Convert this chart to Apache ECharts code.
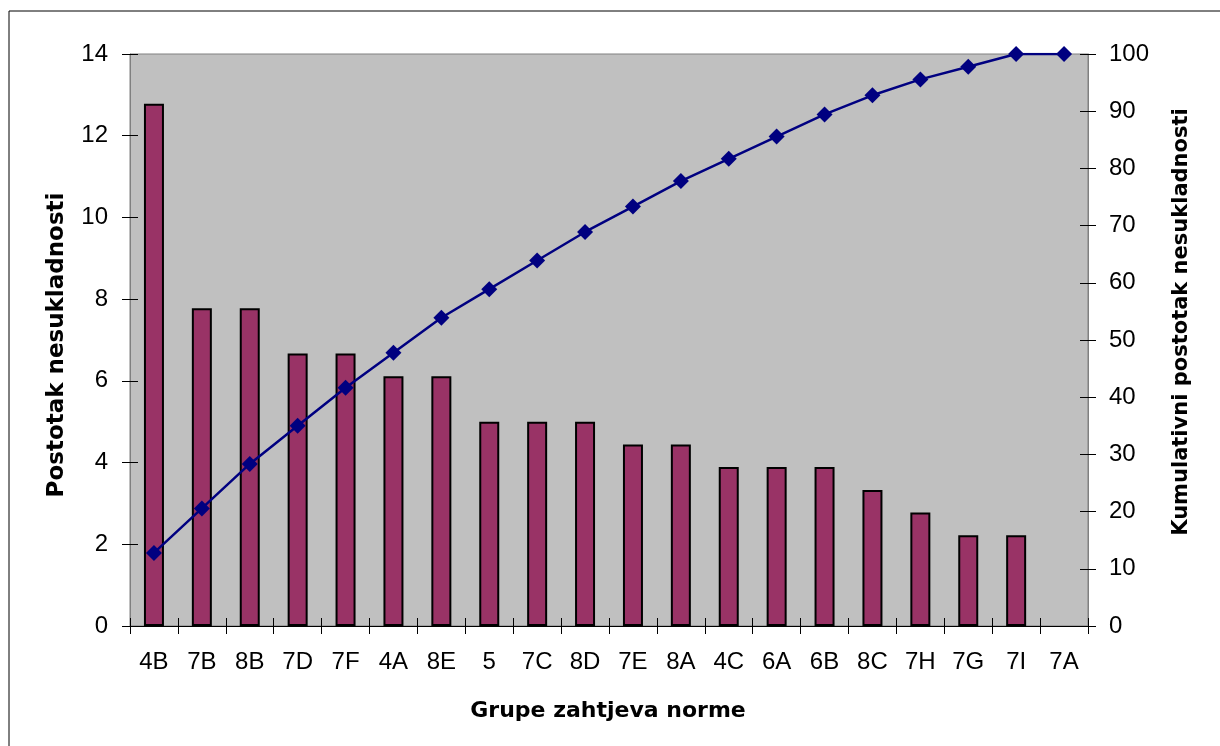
<!DOCTYPE html>
<html>
<head>
<meta charset="utf-8">
<script src="https://cdn.jsdelivr.net/npm/echarts@6/dist/echarts.min.js"></script>
<style>
  html, body { margin: 0; padding: 0; background: #fff; }
  #chart { width: 1220px; height: 746px; }
</style>
</head>
<body>
<div id="chart"></div>
<script>
const categories = ['4B', '7B', '8B', '7D', '7F', '4A', '8E', '5', '7C', '8D', '7E', '8A', '4C', '6A', '6B', '8C', '7H', '7G', '7I', '7A']
// 7A has no bar in the picture (0 %), so it is left empty
const percentValues = [12.78, 7.78, 7.78, 6.67, 6.67, 6.11, 6.11, 5.0, 5.0, 5.0, 4.44, 4.44, 3.89, 3.89, 3.89, 3.33, 2.78, 2.22, 2.22, null]
const cumulativeValues = [12.78, 20.56, 28.33, 35.0, 41.67, 47.78, 53.89, 58.89, 63.89, 68.89, 73.33, 77.78, 81.67, 85.56, 89.44, 92.78, 95.56, 97.78, 100, 100]

const font = 'Liberation Sans, Arial, sans-serif'
const titleFont = 'DejaVu Sans, sans-serif'
const chart = echarts.init(document.getElementById('chart'))

// ticks in the reference cross the axis line: outer ticks on the main axes,
// inner ticks on hidden twin axes
const tickStyle = { color: '#000', width: 1 }

const option = {
  animation: false,
  textStyle: { fontFamily: font },
  graphic: [
    {
      type: 'rect',
      shape: { x: 9, y: 11, width: 1230, height: 760 },
      style: { fill: 'none', stroke: '#000', lineWidth: 1 },
      silent: true
    },
    {
      type: 'text',
      x: 608,
      y: 711,
      style: { text: 'Grupe zahtjeva norme', font: 'bold 22px ' + titleFont, fill: '#000', align: 'center', verticalAlign: 'middle' },
      silent: true
    },
    {
      type: 'text',
      x: 57,
      y: 345,
      rotation: Math.PI / 2,
      style: { text: 'Postotak nesukladnosti', font: 'bold 23px ' + titleFont, fill: '#000', align: 'center', verticalAlign: 'middle' },
      silent: true
    },
    {
      type: 'text',
      x: 1182,
      y: 322,
      rotation: Math.PI / 2,
      style: { text: 'Kumulativni postotak nesukladnosti', font: 'bold 21px ' + titleFont, fill: '#000', align: 'center', verticalAlign: 'middle' },
      silent: true
    }
  ],
  grid: {
    left: 130,
    right: 132,
    top: 54,
    bottom: 120,
    show: true,
    backgroundColor: '#c0c0c0',
    borderColor: '#808080',
    borderWidth: 1
  },
  xAxis: [
    {
      type: 'category',
      data: categories,
      axisLine: { lineStyle: { color: '#000', width: 1 } },
      axisTick: { show: true, length: 8, lineStyle: tickStyle },
      axisLabel: { fontSize: 24, color: '#000', margin: 24, interval: 0, fontFamily: font }
    },
    {
      type: 'category',
      data: categories,
      position: 'bottom',
      axisLine: { show: false },
      axisTick: { show: true, inside: true, length: 8, lineStyle: tickStyle },
      axisLabel: { show: false }
    }
  ],
  yAxis: [
    {
      type: 'value',
      min: 0,
      max: 14,
      interval: 2,
      axisLine: { show: true, lineStyle: { color: '#808080' } },
      axisTick: { show: true, length: 8, lineStyle: tickStyle },
      axisLabel: { fontSize: 24, color: '#000', margin: 22, fontFamily: font },
      splitLine: { show: false }
    },
    {
      type: 'value',
      min: 0,
      max: 100,
      interval: 10,
      position: 'right',
      axisLine: { show: true, lineStyle: { color: '#808080' } },
      axisTick: { show: true, length: 8, lineStyle: tickStyle },
      axisLabel: { fontSize: 24, color: '#000', margin: 21, fontFamily: font },
      splitLine: { show: false }
    },
    {
      type: 'value',
      min: 0,
      max: 14,
      interval: 2,
      position: 'left',
      axisLine: { show: false },
      axisTick: { show: true, inside: true, length: 8, lineStyle: tickStyle },
      axisLabel: { show: false },
      splitLine: { show: false }
    },
    {
      type: 'value',
      min: 0,
      max: 100,
      interval: 10,
      position: 'right',
      axisLine: { show: false },
      axisTick: { show: true, inside: true, length: 8, lineStyle: tickStyle },
      axisLabel: { show: false },
      splitLine: { show: false }
    }
  ],
  series: [
    {
      name: 'Postotak',
      type: 'bar',
      data: percentValues,
      yAxisIndex: 0,
      barWidth: 20,
      itemStyle: { color: '#993366', borderColor: '#000', borderWidth: 2 }
    },
    {
      name: 'Kumulativ',
      type: 'line',
      data: cumulativeValues,
      yAxisIndex: 1,
      symbol: 'diamond',
      symbolSize: 16,
      z: 3,
      lineStyle: { color: '#000080', width: 2.5 },
      itemStyle: { color: '#000080' }
    }
  ]
}

chart.setOption(option)
</script>
</body>
</html>
